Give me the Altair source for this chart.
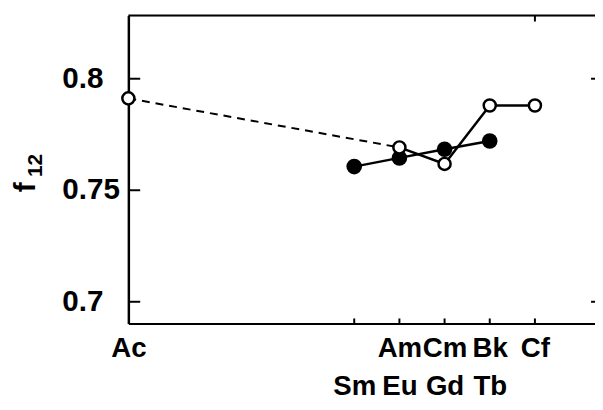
import altair as alt
import pandas as pd

# Actinide series (open circles); position = Z - 89
act_names = ["Ac", "Am", "Cm", "Bk", "Cf"]
act_pos = [0, 6, 7, 8, 9]
act_f12 = [0.7912, 0.7692, 0.7618, 0.7880, 0.7880]

# Lanthanide series (filled circles); position = Z - 57
lan_names = ["Sm", "Eu", "Gd", "Tb"]
lan_pos = [5, 6, 7, 8]
lan_f12 = [0.7606, 0.7645, 0.7684, 0.7721]

# axis labels
x_tick_pos = [0, 5, 6, 7, 8, 9]
x_row1 = ["Ac", "", "Am", "Cm", "Bk", "Cf"]
x_row2 = ["", "Sm", "Eu", "Gd", "Tb", ""]
y_ticks = [0.7, 0.75, 0.8]
y_labels = ["0.7", "0.75", "0.8"]

W, H = 473, 312
FONT = "Liberation Sans"

act = pd.DataFrame({"name": act_names, "pos": act_pos, "f12": act_f12})
lan = pd.DataFrame({"name": lan_names, "pos": lan_pos, "f12": lan_f12})
dashed = act.iloc[[0, 1]]
act_solid = act.iloc[1:]

expr = "''"
for p, a, b in reversed(list(zip(x_tick_pos, x_row1, x_row2))):
    expr = f"datum.value == {p} ? ['{a}', '{b}'] : ({expr})"

xscale = alt.Scale(domain=[0, 10.33], nice=False, zero=False)
yscale = alt.Scale(domain=[0.6903, 0.8283], nice=False, zero=False)

xaxis = alt.Axis(values=x_tick_pos, labelExpr=expr, ticks=False, tickSize=0,
                 grid=False, title=None, domainWidth=2, domainColor="black",
                 labelFont=FONT, labelFontSize=28, labelFontWeight="bold", labelColor="black",
                 labelPadding=12, labelLineHeight=38, labelBaseline="top",
                 labelFlush=False, labelOverlap=False)
yaxis = alt.Axis(values=y_ticks, labels=False, ticks=False, tickSize=0,
                 grid=False, title=None, domainWidth=2.5, domainColor="black")

X = alt.X("pos:Q", scale=xscale, axis=xaxis)
Y = alt.Y("f12:Q", scale=yscale, axis=yaxis)

dash_line = alt.Chart(dashed).mark_line(color="black", strokeWidth=2, strokeDash=[8, 6]).encode(x=X, y=Y)
act_line = alt.Chart(act_solid).mark_line(color="black", strokeWidth=2.5).encode(x=X, y=Y)
lan_line = alt.Chart(lan).mark_line(color="black", strokeWidth=2.5).encode(x=X, y=Y)
lan_pts = alt.Chart(lan).mark_circle(color="black", opacity=1, size=250).encode(x=X, y=Y)
act_pts = alt.Chart(act).mark_circle(fill="white", stroke="black", strokeWidth=2.5,
                                     opacity=1, fillOpacity=1, size=150).encode(x=X, y=Y)

yt = pd.DataFrame({"f12": y_ticks, "lab": y_labels})
y_text = alt.Chart(yt).mark_text(font=FONT, fontSize=30, fontWeight="bold", color="black",
                                 align="left", baseline="middle").encode(
    y=Y, x=alt.value(-67), text="lab:N")
left_ticks = alt.Chart(yt).mark_rule(color="black", strokeWidth=2).encode(
    y=Y, x=alt.value(0), x2=alt.value(12))
right_ticks = alt.Chart(pd.DataFrame({"f12": [0.7, 0.8]})).mark_rule(color="black", strokeWidth=2).encode(
    y=Y, x=alt.value(W - 4), x2=alt.value(W))
bt = pd.DataFrame({"pos": x_tick_pos[1:]})
bottom_ticks = alt.Chart(bt).mark_rule(color="black", strokeWidth=2).encode(
    x=X, y=alt.value(H), y2=alt.value(H - 5))
top_tick = alt.Chart(pd.DataFrame({"pos": [9]})).mark_rule(color="black", strokeWidth=2).encode(
    x=X, y=alt.value(0), y2=alt.value(6))
top_border = alt.Chart(pd.DataFrame({"a": [0]})).mark_rule(color="black", strokeWidth=2).encode(
    x=alt.value(0), x2=alt.value(W), y=alt.value(0))

title_f = alt.Chart(pd.DataFrame({"t": ["f"]})).mark_text(
    font=FONT, fontSize=30, fontWeight="bold", angle=270, color="black",
    align="center", baseline="middle").encode(
    text="t:N", x=alt.value(-104), y=alt.value(174))
title_sub = alt.Chart(pd.DataFrame({"t": ["12"]})).mark_text(
    font=FONT, fontSize=21, fontWeight="bold", angle=270, color="black",
    align="center", baseline="middle").encode(
    text="t:N", x=alt.value(-94), y=alt.value(152))

chart = alt.layer(
    dash_line, act_line, lan_line, lan_pts, act_pts,
    left_ticks, right_ticks, bottom_ticks, top_tick, top_border,
    y_text, title_f, title_sub,
).properties(
    width=W, height=H,
    autosize=alt.AutoSizeParams(type="none"),
    padding={"left": 122, "top": 5, "right": 0, "bottom": 80},
).configure_view(stroke=None).configure(background="white")

chart.save("out.html", embed_options={"renderer": "svg", "actions": False})
